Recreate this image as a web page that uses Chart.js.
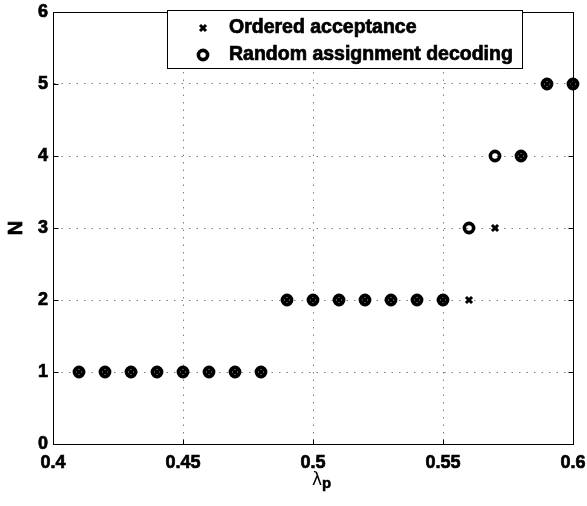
<!DOCTYPE html>
<html>
<head>
<meta charset="utf-8">
<script src="https://cdn.jsdelivr.net/npm/chart.js@4.4.1/dist/chart.umd.min.js"></script>
<style>
  html, body { margin: 0; padding: 0; background: #fff; }
  canvas { display: block; }
</style>
</head>
<body>
<canvas id="nChart" width="587" height="506"></canvas>
<script>
// lambda_p sweep and the resulting N for each scheme
const lambdaP = [0.41, 0.42, 0.43, 0.44, 0.45, 0.46, 0.47, 0.48, 0.49, 0.50,
                 0.51, 0.52, 0.53, 0.54, 0.55, 0.56, 0.57, 0.58, 0.59, 0.60];
const orderedN = [1, 1, 1, 1, 1, 1, 1, 1, 2, 2, 2, 2, 2, 2, 2, 2, 3, 4, 5, 5];
const randomN  = [1, 1, 1, 1, 1, 1, 1, 1, 2, 2, 2, 2, 2, 2, 2, 3, 4, 4, 5, 5];

const seriesNames = ["Ordered acceptance", "Random assignment decoding"];
const xTicks = [0.4, 0.45, 0.5, 0.55, 0.6];
const yTicks = [0, 1, 2, 3, 4, 5, 6];

const FONT = "'Liberation Sans', Arial, Helvetica, sans-serif";

// solid box round the axes plus short inward tick marks on every side
const axesBox = {
  id: "axesBox",
  beforeDatasetsDraw(chart) {
    const { ctx, chartArea: a, scales } = chart;
    const L = Math.round(a.left) + 0.5, R = Math.round(a.right) + 0.5;
    const T = Math.round(a.top) + 0.5, B = Math.round(a.bottom) + 0.5;
    ctx.save();
    ctx.strokeStyle = "#000";
    ctx.lineWidth = 1;
    ctx.setLineDash([]);
    ctx.strokeRect(L, T, R - L, B - T);
    ctx.beginPath();
    xTicks.forEach(v => {
      const px = Math.round(scales.x.getPixelForValue(v)) + 0.5;
      ctx.moveTo(px, B); ctx.lineTo(px, B - 5);
      ctx.moveTo(px, T); ctx.lineTo(px, T + 5);
    });
    yTicks.forEach(v => {
      const py = Math.round(scales.y.getPixelForValue(v)) + 0.5;
      ctx.moveTo(L, py); ctx.lineTo(L + 5, py);
      ctx.moveTo(R, py); ctx.lineTo(R - 5, py);
    });
    ctx.stroke();
    ctx.restore();
  }
};

function drawCross(ctx, x, y) {
  ctx.save();
  ctx.strokeStyle = "#000";
  ctx.lineWidth = 3;
  ctx.beginPath();
  ctx.moveTo(x - 3, y - 3); ctx.lineTo(x + 3, y + 3);
  ctx.moveTo(x - 3, y + 3); ctx.lineTo(x + 3, y - 3);
  ctx.stroke();
  ctx.restore();
}

function drawRing(ctx, x, y) {
  ctx.save();
  ctx.strokeStyle = "#000";
  ctx.lineWidth = 3.6;
  ctx.beginPath();
  ctx.arc(x, y, 4.6, 0, Math.PI * 2);
  ctx.stroke();
  ctx.restore();
}

// legend box in the top middle of the axes
const legendBox = {
  id: "legendBox",
  afterDatasetsDraw(chart) {
    const { ctx } = chart;
    ctx.save();
    ctx.fillStyle = "#fff";
    ctx.fillRect(167.5, 10.5, 355, 58);
    ctx.strokeStyle = "#000";
    ctx.lineWidth = 1;
    ctx.strokeRect(167.5, 10.5, 355, 58);
    drawCross(ctx, 203, 28);
    drawRing(ctx, 203, 55);
    ctx.fillStyle = "#000";
    ctx.strokeStyle = "#000";
    ctx.lineWidth = 0.7;
    ctx.font = "bold 19.5px " + FONT;
    ctx.textBaseline = "middle";
    ctx.textAlign = "left";
    seriesNames.forEach((name, i) => {
      const ty = i === 0 ? 28 : 55;
      ctx.fillText(name, 229, ty);
      ctx.strokeText(name, 229, ty);
    });
    ctx.restore();
  }
};

// axis titles: N on the left, lambda with subscript p below
const axisTitles = {
  id: "axisTitles",
  afterDraw(chart) {
    const { ctx, chartArea: a } = chart;
    ctx.save();
    ctx.fillStyle = "#000";
    ctx.strokeStyle = "#000";
    ctx.lineWidth = 0.7;
    ctx.textBaseline = "middle";
    ctx.textAlign = "center";
    ctx.translate(16, (a.top + a.bottom) / 2);
    ctx.rotate(-Math.PI / 2);
    ctx.font = "bold 20px " + FONT;
    ctx.fillText("N", 0, 0);
    ctx.strokeText("N", 0, 0);
    ctx.restore();

    ctx.save();
    ctx.fillStyle = "#000";
    ctx.textBaseline = "alphabetic";
    ctx.textAlign = "left";
    const cx = (a.left + a.right) / 2;
    ctx.font = "17px 'DejaVu Sans', " + FONT;
    const lw = ctx.measureText("λ").width;
    ctx.fillText("λ", cx - 1, 485);
    ctx.font = "bold 15px " + FONT;
    ctx.strokeStyle = "#000";
    ctx.lineWidth = 0.5;
    ctx.fillText("p", cx - 1 + lw, 488);
    ctx.strokeText("p", cx - 1 + lw, 488);
    ctx.restore();
  }
};

const toPoints = ys => lambdaP.map((x, i) => ({ x: x, y: ys[i] }));

new Chart(document.getElementById("nChart"), {
  type: "scatter",
  data: {
    datasets: [
      {
        label: seriesNames[0],
        data: toPoints(orderedN),
        pointStyle: "crossRot",
        pointRadius: 4.3,
        pointBorderWidth: 3,
        borderColor: "#000",
        backgroundColor: "#000",
        showLine: false,
        clip: false
      },
      {
        label: seriesNames[1],
        data: toPoints(randomN),
        pointStyle: "circle",
        pointRadius: 4.6,
        pointBorderWidth: 3.6,
        borderColor: "#000",
        backgroundColor: "rgba(0,0,0,0)",
        showLine: false,
        clip: false
      }
    ]
  },
  options: {
    responsive: false,
    animation: false,
    layout: { padding: { top: 12, right: 14, left: 0, bottom: 0 } },
    plugins: {
      legend: { display: false },
      tooltip: { enabled: false }
    },
    scales: {
      x: {
        type: "linear",
        min: 0.4,
        max: 0.6,
        afterBuildTicks: s => { s.ticks = xTicks.map(v => ({ value: v })); },
        afterFit: s => { s.height = 62; s.paddingLeft = 0; s.paddingRight = 0; },
        ticks: {
          color: "#000",
          padding: 8,
          maxRotation: 0,
          textStrokeColor: "#000",
          textStrokeWidth: 0.7,
          font: { family: FONT, size: 18, weight: "bold" },
          callback: v => String(Number(v.toFixed(2)))
        },
        grid: { color: "rgba(0,0,0,0.5)", lineWidth: 1, drawTicks: false },
        border: { display: true, color: "#000", dash: [1.5, 6] }
      },
      y: {
        type: "linear",
        min: 0,
        max: 6,
        afterBuildTicks: s => { s.ticks = yTicks.map(v => ({ value: v })); },
        afterFit: s => { s.width = 53; s.paddingTop = 0; s.paddingBottom = 0; },
        ticks: {
          color: "#000",
          padding: 5,
          textStrokeColor: "#000",
          textStrokeWidth: 0.7,
          font: { family: FONT, size: 18, weight: "bold" }
        },
        grid: { color: "rgba(0,0,0,0.5)", lineWidth: 1, drawTicks: false },
        border: { display: true, color: "#000", dash: [1.5, 6] }
      }
    }
  },
  plugins: [axesBox, legendBox, axisTitles]
});
</script>
</body>
</html>
